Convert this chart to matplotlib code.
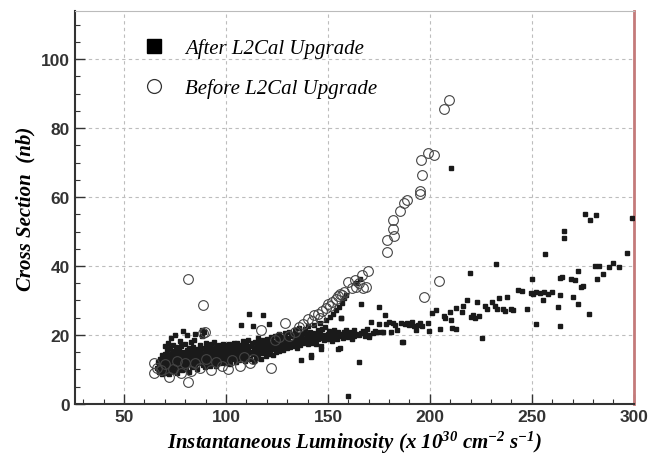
import numpy as np
import matplotlib
matplotlib.use("Agg")
from matplotlib import pyplot as plt
from matplotlib.lines import Line2D

plt.rcParams['mathtext.fontset'] = 'custom'
plt.rcParams['mathtext.rm'] = 'Liberation Serif:italic:bold'
plt.rcParams['mathtext.it'] = 'Liberation Serif:italic:bold'

# after the L2Cal upgrade: (luminosity, cross section)
after_pts = np.array([
    (66,10.5),(66.5,12.2),(67,9.4),(67,11.1),(67.5,13.0),(68,10.2),(68,12.4),(68.5,8.8),(68.5,14.1),(69,11.5),
    (69,13.3),(69.5,9.7),(69.5,12.0),(70,10.8),(70,14.6),(70,16.9),(70.5,12.7),(70.5,9.1),(71,11.9),(71,13.8),
    (71,15.5),(71.5,10.3),(71.5,17.8),(72,12.5),(72,14.2),(72,8.6),(72.5,11.2),(72.5,16.1),(73,13.1),(73,10.0),
    (73,19.0),(73.5,12.0),(73.5,14.9),(74,11.4),(74,13.6),(74,17.2),(74.5,9.5),(74.5,15.3),(75,12.8),(75,14.1),
    (75,20.1),(75.5,10.9),(75.5,16.4),(76,13.3),(76,11.7),(76,8.9),(76.5,14.8),(76.5,12.2),(77,15.9),(77,10.4),
    (77,13.7),(77.5,12.9),(77.5,18.3),(78,11.1),(78,14.4),(78,16.8),(78.5,13.0),(78.5,9.8),(79,12.3),(79,15.1),
    (79,21.2),(79.5,13.9),(79.5,11.0),(80,14.6),(80,12.1),(80,17.5),(80.5,10.2),(80.5,13.4),(81,15.7),(81,12.7),
    (81,19.9),(81.5,14.0),(81.5,11.5),(82,13.2),(82,16.2),(82,9.3),(82.5,14.9),(82.5,12.4),(83,11.8),(83,15.3),
    (83,17.9),(83.5,13.6),(83.5,10.6),(84,14.3),(84,12.0),(84,16.6),(84.5,13.1),(84.5,18.4),(85,15.0),(85,11.3),
    (85,20.3),(85.5,13.8),(85.5,16.0),(86,12.6),(86,14.7),(86,10.1),(86.5,15.5),(86.5,13.3),(87,11.9),(87,17.1),
    (87,14.2),(87.5,12.8),(87.5,15.8),(88,13.9),(88,19.6),(88,21.5),(88.5,11.4),(88.5,14.6),(89,16.3),(89,12.9),
    (89,20.8),(89.5,13.5),(89.5,10.7),(90,15.2),(90,12.2),(90,17.6),(90.5,14.0),(90.5,16.7),(91,11.6),(91,13.4),
    (91,15.9),(91.5,14.8),(91.5,12.5),(92,16.2),(92,13.7),(92,10.9),(92.5,15.1),(92.5,17.4),(93,12.9),(93,14.5),
    (93.5,16.0),(93.5,11.8),(94,13.9),(94,15.6),(94,17.9),(94.5,12.3),(94.5,14.7),(95,16.5),(95,13.2),(95,11.0),
    (95.5,15.0),(95.5,14.1),(96,12.7),(96,16.8),(96,15.4),(96.5,13.6),(96.5,17.2),(97,14.4),(97,11.9),(97.5,15.7),
    (97.5,13.1),(98,16.3),(98,14.0),(98,12.4),(98.5,15.2),(98.5,17.5),(99,13.7),(99,16.1),(99.5,14.6),(99.5,12.0),
    (100,15.5),(100,13.3),(100,17.0),(100.5,14.2),(100.5,16.6),(101,12.8),(101,15.0),(101.5,13.9),(101.5,17.3),(102,14.8),
    (102,16.0),(102,11.7),(102.5,15.4),(102.5,13.5),(103,16.7),(103,14.1),(103.5,15.2),(103.5,12.9),(104,17.6),(104,14.6),
    (104,13.4),(104.5,15.9),(105,16.4),(105,14.0),(105,12.3),(105.5,15.1),(105.5,17.8),(106,13.8),(106,16.2),(106.5,14.9),
    (106.5,12.6),(107,15.6),(107,17.1),(107.5,14.3),(107.5,22.8),(108,16.5),(108,13.2),(108.5,15.3),(108.5,18.2),(109,14.7),
    (109,16.9),(109.5,12.5),(109.5,15.8),(110,17.4),(110,14.2),(110.5,16.1),(110.5,13.6),(111,15.5),(111,18.6),(111.5,14.8),
    (111.5,26.1),(112,16.7),(112,13.1),(112.5,15.2),(112.5,17.7),(113,14.4),(113,22.5),(113.5,16.3),(113.5,12.4),(114,15.9),
    (114,18.1),(114.5,14.0),(115,17.0),(115,15.3),(115.5,13.4),(115.5,19.1),(116,16.2),(116,14.7),(116.5,17.9),(117,15.6),
    (117,13.0),(117.5,16.8),(118,14.9),(118,18.5),(118,25.7),(118.5,16.0),(119,17.3),(119,15.1),(119.5,13.9),(120,16.6),
    (120,18.9),(120.5,15.4),(121,17.6),(121,23.3),(121.5,14.5),(122,16.9),(122,19.4),(122.5,15.8),(123,18.0),(123,14.2),
    (123.5,17.1),(124,16.2),(124,19.8),(124.5,15.0),(125,17.9),(125,18.8),(125.5,16.4),(126,15.3),(126,20.2),(126.5,17.5),
    (127,18.4),(127,16.0),(127.5,19.3),(128,17.0),(128,15.6),(128.5,18.7),(129,16.8),(129,20.6),(129.5,17.8),(130,19.0),
    (130,16.3),(130.5,18.2),(131,17.4),(131,20.9),(131.5,16.6),(132,19.6),(132,18.0),(132.5,17.2),(133,20.3),(133,16.9),
    (134,18.6),(134,21.4),(134.5,17.7),(135,19.2),(135,16.2),(135.5,20.0),(136,18.3),(136,22.1),(136.5,17.1),(137,19.8),
    (137,12.8),(137.5,18.9),(138,20.5),(138,17.6),(138.5,21.7),(139,19.1),(139,18.0),(139.5,20.2),(140,17.4),(140,22.6),
    (140.5,19.5),(141,18.6),(141,21.0),(141.5,14.1),(142,19.9),(142,17.8),(142.5,20.7),(143,18.8),(143,22.9),(143.5,19.4),
    (144,20.3),(144,17.3),(145,21.4),(145,18.9),(145.5,19.7),(146,20.6),(146,23.5),(146.5,16.7),(147,19.2),(147,21.8),
    (148,20.1),(148,18.4),(148.5,22.4),(149,19.6),(149,24.3),(150,20.4),(150,18.8),(150.5,21.2),(151,19.8),(151,25.1),
    (152,20.6),(152,18.3),(152.5,26.0),(153,19.5),(153,21.5),(154,20.2),(154,27.2),(154.5,18.9),(155,20.8),(155,15.9),
    (155.5,28.1),(156,19.7),(156,16.1),(156.5,24.9),(157,20.3),(157,29.3),(157.5,19.0),(158,20.9),(158,30.6),(158.5,19.6),
    (159,21.4),(159,31.5),(159.5,20.1),(160,19.3),(160,20.7),(161,21.0),(161,19.8),(162,20.4),(162,18.7),(163,19.6),
    (163,21.3),(164,20.2),(164,35.0),(165,19.9),(165,12.2),(165.5,36.2),(166,20.5),(166,29.0),(167,21.1),(168,19.7),
    (168,20.3),(169,21.8),(170,20.1),(170,19.4),(171,23.7),(172,20.6),(173,21.2),(174,20.8),(175,28.2),(175,23.3),
    (176,21.0),(177,20.8),(178,25.9),(178.5,23.2),(180,23.8),(181,21.0),(182,23.6),(183,22.9),(184,21.3),(186,23.6),
    (187,18.0),(188,23.1),(189,23.5),(190,22.8),(191,23.9),(192,22.6),(194,23.0),(195,23.4),(196,22.7),(199,23.6),
    (199.5,21.2),(200.8,26.3),(202.8,27.3),(205,21.7),(207,25.5),(207.5,25.0),(210,26.6),(210.6,24.3),(210.6,68.3),(211,21.9),
    (212.6,21.7),(213,27.8),(215.6,26.6),(216,28.5),(218,30.2),(219.7,38.0),(220,25.3),(221,25.8),(222,24.9),(223,29.5),
    (224,25.6),(225.4,19.2),(227,28.5),(228,27.6),(230.3,29.5),(232,28.3),(232.4,40.7),(233,27.5),(234,30.7),(236,27.4),
    (237,26.9),(238,31.0),(240,27.6),(241,27.2),(243,33.0),(245,32.8),(247.5,27.5),(249.5,32.3),(250,36.3),(250.5,31.8),
    (252,23.3),(252,32.6),(254,32.2),(255.7,30.2),(256,32.5),(256.7,43.4),(258,31.9),(260,32.4),(263,28.0),(263.9,22.5),
    (264,31.5),(264,36.6),(265,36.9),(266,50.1),(266,48.2),(269,36.3),(270,31.0),(271,35.9),(272.5,38.5),(272.5,29.0),
    (274,33.8),(275,34.1),(276,55.1),(278,26.0),(278.3,53.2),(281,39.9),(281.7,54.8),(282,36.3),(283,40.0),(285,37.8),
    (288,39.7),(290,41.0),(292.6,39.6),(296.5,43.8),(299,53.9),(160,2.2),(156.6,24.9),(141.8,13.5),(146.7,16.0),(193.4,21.4),
    (186.4,18.1),
])

# before the L2Cal upgrade
before_pts = np.array([
    (64.7,12.0),(64.5,8.9),(66,10.5),(68,9.8),(70,11.5),(72.2,7.7),(74,10.2),(76,12.5),(78,9.0),(80,11.8),
    (81.3,6.3),(81.3,36.3),(83,9.5),(85,12.0),(87,10.3),(88.8,28.7),(88.5,20.5),(89.5,21.0),(90,13.0),(92.4,9.9),
    (95,12.2),(98,11.0),(101,10.1),(103,12.6),(107,10.9),(109,13.5),(111.6,11.8),(113,13.0),(117,21.4),(122,10.4),
    (124,18.4),(126,19.5),(128.8,23.5),(131,19.8),(134,21.0),(136,22.2),(138,23.3),(140,24.5),(142,24.0),(143,25.8),
    (145,26.2),(146,25.0),(147,27.0),(149,27.8),(150,29.0),(151,28.3),(152,29.5),(154,30.5),(155,31.3),(156,32.0),
    (157,31.6),(158,32.5),(160,35.4),(162,33.5),(163.5,35.9),(164,34.0),(165,35.2),(166.8,37.3),(167,33.6),(168.8,34.0),
    (169.8,38.6),(178.9,44.0),(178.9,47.4),(181.9,53.2),(181.9,50.8),(182.3,48.8),(185.3,56.0),(187.4,58.2),(189,59.1),(195,60.9),
    (195,61.8),(195.9,66.4),(195.5,70.7),(199,72.9),(202,72.2),(207,85.6),(209.6,88.1),(204.5,35.7),(197,31.1),
])

fig = plt.figure(figsize=(6.48, 4.56), dpi=100)
ax = fig.add_axes([0.116, 0.112, 0.862, 0.862])

ax.plot(after_pts[:, 0], after_pts[:, 1], linestyle="none", marker="s",
        markersize=2.2, color="#1a1a1a", zorder=3)
ax.plot(before_pts[:, 0], before_pts[:, 1], linestyle="none", marker="o",
        markersize=7, markerfacecolor="none", markeredgecolor="#444444",
        markeredgewidth=0.8, zorder=4)

ax.set_xlim(26, 300)
ax.set_ylim(0, 114)
ax.set_xticks([50, 100, 150, 200, 250, 300])
ax.set_xticks(np.arange(30, 300, 10), minor=True)
ax.set_yticks([0, 20, 40, 60, 80, 100])
ax.set_yticks(np.arange(0, 114, 5), minor=True)

ax.grid(True, which="major", linestyle=(0, (3, 3)), color="#bdbdbd", linewidth=0.8)
ax.tick_params(which="major", direction="in", length=7, width=1.0, color="#333333",
               labelsize=12.5, labelcolor="#333333", pad=4)
ax.tick_params(which="minor", direction="in", length=3.5, width=0.8, color="#333333")
for lab in ax.get_xticklabels() + ax.get_yticklabels():
    lab.set_fontfamily("Liberation Sans")
    lab.set_fontweight("bold")

ax.spines["left"].set_color("#333333")
ax.spines["left"].set_linewidth(1.5)
ax.spines["bottom"].set_color("#333333")
ax.spines["bottom"].set_linewidth(1.5)
ax.spines["top"].set_color("#bbbbbb")
ax.spines["top"].set_linewidth(0.8)
ax.spines["right"].set_color("#c47a7a")
ax.spines["right"].set_linewidth(2.0)

ax.set_xlabel("Instantaneous Luminosity (x 10$^{30}$ cm$^{-2}$ s$^{-1}$)",
              family="Liberation Serif", style="italic", weight="bold", fontsize=15, labelpad=3)
ax.set_ylabel("Cross Section  (nb)",
              family="Liberation Serif", style="italic", weight="bold", fontsize=15, labelpad=4)

handles = [
    Line2D([], [], linestyle="none", marker="s", markersize=10, color="black"),
    Line2D([], [], linestyle="none", marker="o", markersize=10, markerfacecolor="none",
           markeredgecolor="#333333", markeredgewidth=0.9),
]
ax.legend(handles, ["After L2Cal Upgrade", "Before L2Cal Upgrade"],
          loc="upper left", bbox_to_anchor=(0.085, 0.978), frameon=False,
          prop={"family": "Liberation Serif", "style": "italic", "size": 15},
          labelspacing=0.95, handletextpad=0.9, handlelength=1.2)

fig.savefig("out.png", dpi=100)
